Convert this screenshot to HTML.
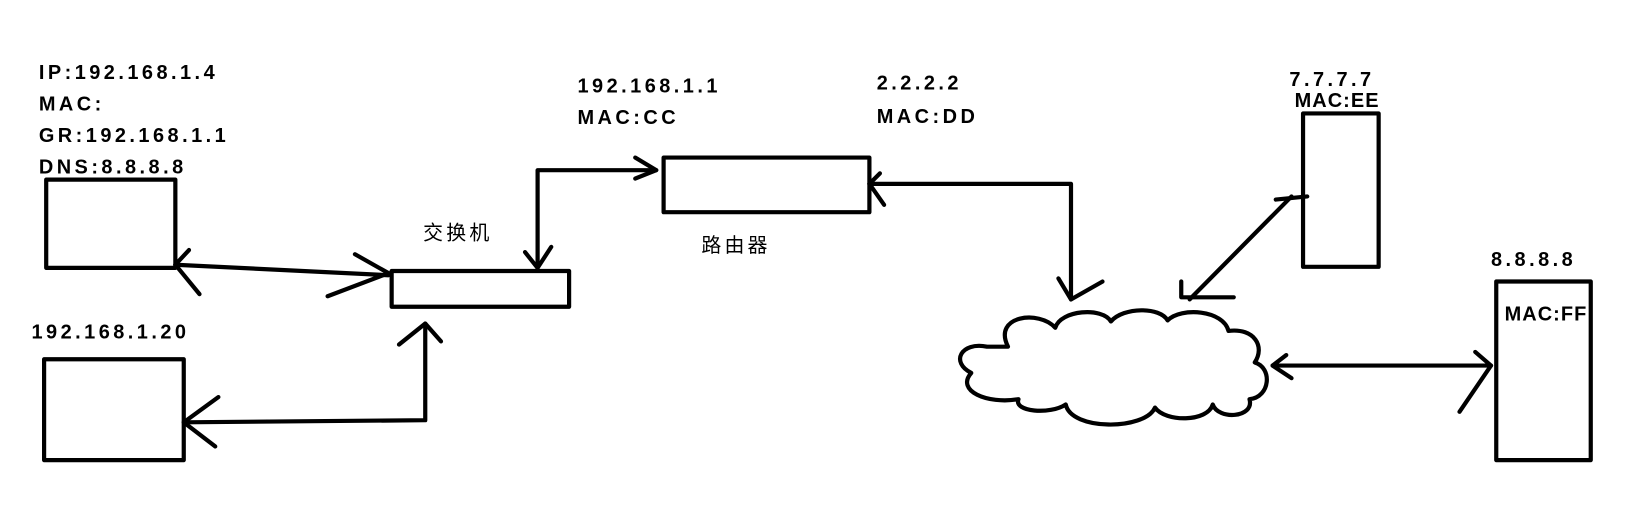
<!DOCTYPE html>
<html><head><meta charset="utf-8"><style>
html,body{margin:0;padding:0;background:#fff;width:1638px;height:520px;overflow:hidden}
svg{display:block}
text{font-family:"Liberation Sans","Noto Sans CJK SC",sans-serif;font-size:19px;font-weight:bold;fill:#000;letter-spacing:3.3px}
.cn{font-weight:normal;font-size:19px;letter-spacing:3px}
.tight{letter-spacing:1px}
</style></head><body>
<svg width="1638" height="520" viewBox="0 0 1560 495" preserveAspectRatio="none" xmlns="http://www.w3.org/2000/svg">
<g fill="none" stroke="#000" stroke-width="4" stroke-linecap="round" stroke-linejoin="round">
<rect x="44" y="171" width="123" height="84"/>
<rect x="42" y="342" width="133" height="96"/>
<rect x="373" y="258" width="169" height="34"/>
<rect x="632" y="150" width="196" height="52"/>
<rect x="1241" y="108" width="72" height="146"/>
<rect x="1425" y="268" width="90" height="170"/>
<path d="M960,330 C945,300 990,295 1005,312 C1010,295 1050,292 1058,306 C1070,292 1105,292 1112,305 C1125,292 1165,295 1170,315 C1195,312 1205,330 1195,345 C1212,350 1210,378 1190,380 C1195,398 1160,400 1155,385 C1150,402 1110,402 1100,388 C1090,410 1020,410 1015,385 C1000,395 965,392 970,380 C940,385 910,372 925,355 C905,345 915,325 940,330 Z"/>
<path d="M167,252 L370,262"/>
<path d="M180,238 L167,252 L190,280"/>
<path d="M338,242 L370,260 L312,282"/>
<path d="M175,402 L405,400 L405,308"/>
<path d="M208,378 L175,402 L205,425"/>
<path d="M380,328 L405,308 L420,325"/>
<path d="M512,255 L512,162 L625,162"/>
<path d="M500,240 L512,255 L525,235"/>
<path d="M605,150 L625,162 L605,170"/>
<path d="M828,175 L1020,175 L1020,285"/>
<path d="M838,165 L828,175 L842,195"/>
<path d="M1008,265 L1020,285 L1050,268"/>
<path d="M1133,285 L1230,187"/>
<path d="M1215,190 L1245,187"/>
<path d="M1125,268 L1125,283 L1175,283"/>
<path d="M1212,348 L1420,348"/>
<path d="M1225,338 L1212,348 L1230,360"/>
<path d="M1405,335 L1420,348 L1390,392"/>
</g>
<text x="37" y="75">IP:192.168.1.4</text>
<text x="37" y="105">MAC:</text>
<text x="37" y="135">GR:192.168.1.1</text>
<text x="37" y="165">DNS:8.8.8.8</text>
<text x="30" y="322">192.168.1.20</text>
<text x="403" y="228" class="cn">交换机</text>
<text x="550" y="88">192.168.1.1</text>
<text x="550" y="118">MAC:CC</text>
<text x="668" y="240" class="cn">路由器</text>
<text x="835" y="85">2.2.2.2</text>
<text x="835" y="117">MAC:DD</text>
<text x="1228" y="82">7.7.7.7</text>
<text x="1233" y="102" class="tight">MAC:EE</text>
<text x="1420" y="253">8.8.8.8</text>
<text x="1433" y="305" class="tight">MAC:FF</text>
</svg>
</body></html>
